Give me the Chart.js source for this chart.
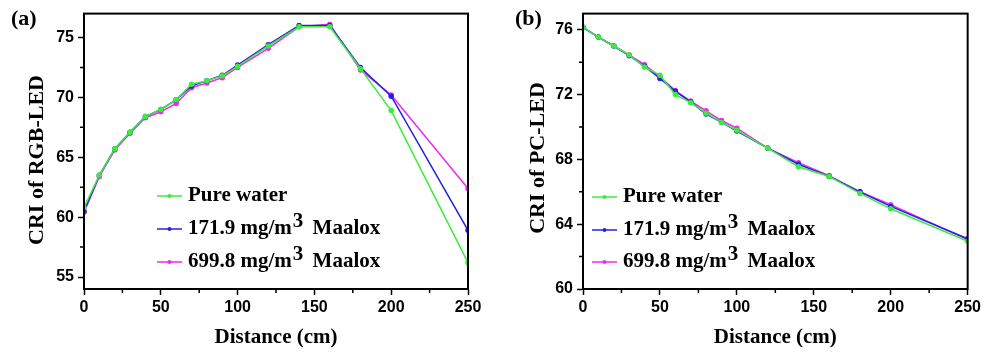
<!DOCTYPE html>
<html>
<head>
<meta charset="utf-8">
<script src="https://cdn.jsdelivr.net/npm/chart.js"></script>
<style>
body { margin: 0; background: #fff; }
canvas { position: absolute; top: 0; }
</style>
</head>
<body>
<canvas id="chartA" width="492" height="354" style="left:0"></canvas>
<canvas id="chartB" width="492" height="354" style="left:492px"></canvas>
<script>
// distances (cm) shared by both panels
var distances = [0, 10, 20, 30, 40, 50, 60, 70, 80, 90, 100, 120, 140, 160, 180, 200, 250];
var seriesNames = ['Pure water', '171.9 mg/m\u00B3 Maalox', '699.8 mg/m\u00B3 Maalox'];

// (a) CRI of RGB-LED
var rgbWater = [60.8, 63.5, 65.7, 67.1, 68.4, 69.0, 69.8, 71.1, 71.4, 71.8, 72.6, 74.3, 75.9, 75.9, 72.4, 68.9, 56.2];
var rgbLow   = [60.5, 63.5, 65.7, 67.1, 68.4, 69.0, 69.8, 70.95, 71.4, 71.85, 72.7, 74.4, 76.0, 76.0, 72.5, 70.1, 58.9];
var rgbHigh  = [60.4, 63.4, 65.6, 67.0, 68.3, 68.8, 69.5, 70.8, 71.2, 71.65, 72.5, 74.1, 75.9, 76.1, 72.3, 70.2, 62.4];

// (b) CRI of PC-LED
var pcWater = [76.15, 75.55, 75.0, 74.45, 73.7, 73.2, 72.0, 71.5, 70.85, 70.3, 69.8, 68.7, 67.55, 66.95, 65.9, 64.95, 62.95];
var pcLow   = [76.15, 75.55, 75.0, 74.4, 73.75, 73.0, 72.2, 71.55, 70.8, 70.3, 69.75, 68.7, 67.7, 66.95, 66.0, 65.1, 63.1];
var pcHigh  = [76.15, 75.55, 75.0, 74.45, 73.85, 73.1, 72.25, 71.6, 71.0, 70.4, 69.93, 68.7, 67.8, 67.0, 66.0, 65.2, 63.05];

// tick labels
var xTicks = [0, 50, 100, 150, 200, 250];
var yTicksA = [55, 60, 65, 70, 75];
var yTicksB = [60, 64, 68, 72, 76];

var colors = ['rgb(60,235,60)', 'rgb(35,35,225)', 'rgb(240,40,240)'];

function makeDatasets(arrs) {
    return arrs.map(function(arr, i) {
        return {
            label: seriesNames[i],
            data: arr.map(function(v, j) { return {x: distances[j], y: v}; }),
            borderColor: colors[i],
            backgroundColor: colors[i],
            borderWidth: 1.5,
            pointRadius: 2,
            pointHoverRadius: 2,
            tension: 0
        };
    });
}

function minorValues(ticks, min, max) {
    var step = ticks[1] - ticks[0];
    var res = [];
    for (var v = ticks[0] - step / 2; v <= max; v += step) {
        if (v >= min) res.push(v);
    }
    return res;
}

// frame, minor ticks, panel letter, y title and legend
var panelPlugin = {
    id: 'panel',
    afterDraw: function(chart, args, opts) {
        var ctx = chart.ctx, a = chart.chartArea;
        var xs = chart.scales.x, ys = chart.scales.y;
        ctx.save();
        ctx.strokeStyle = '#000';
        ctx.lineWidth = 2;
        ctx.strokeRect(a.left, a.top, a.right - a.left, a.bottom - a.top);

        ctx.lineWidth = 1.5;
        ctx.beginPath();
        minorValues(xTicks, xs.min, xs.max).forEach(function(v) {
            var px = xs.getPixelForValue(v);
            ctx.moveTo(px, a.bottom); ctx.lineTo(px, a.bottom + 4);
        });
        minorValues(opts.yTicks, ys.min, ys.max).forEach(function(v) {
            var py = ys.getPixelForValue(v);
            ctx.moveTo(a.left, py); ctx.lineTo(a.left - 4, py);
        });
        ctx.stroke();

        ctx.fillStyle = '#000';
        ctx.textBaseline = 'middle';
        ctx.textAlign = 'left';
        ctx.font = 'bold 22px "Liberation Serif"';
        ctx.fillText(opts.label, opts.labelX, 19);

        ctx.save();
        ctx.translate(opts.titleX, opts.titleY);
        ctx.rotate(-Math.PI / 2);
        ctx.textAlign = 'center';
        ctx.fillText(opts.yTitle, 0, 0);
        ctx.restore();

        ctx.font = 'bold 21px "Liberation Serif"';
        chart.data.datasets.forEach(function(ds, i) {
            var x0 = a.left + opts.legendX, y = opts.legendY[i];
            ctx.strokeStyle = ds.borderColor;
            ctx.lineWidth = 1.5;
            ctx.beginPath();
            ctx.moveTo(x0, y); ctx.lineTo(x0 + 25, y);
            ctx.stroke();
            ctx.fillStyle = ds.borderColor;
            ctx.beginPath();
            ctx.arc(x0 + 12.5, y, 2, 0, Math.PI * 2);
            ctx.fill();
            ctx.fillStyle = '#000';
            var parts = ds.label.split('\u00B3');
            var tx = x0 + 31;
            ctx.fillText(parts[0], tx, y);
            if (parts.length > 1) {
                tx += ctx.measureText(parts[0]).width;
                ctx.fillText('3', tx + 1, y - 7);
                tx += ctx.measureText('3').width + 5;
                ctx.fillText(parts[1], tx, y);
            }
        });
        ctx.restore();
    }
};

function makeChart(id, arrs, yMin, yMax, yTicks, padRight, yWidth, panelOpts) {
    panelOpts.yTicks = yTicks;
    return new Chart(document.getElementById(id), {
        type: 'line',
        data: {datasets: makeDatasets(arrs)},
        plugins: [panelPlugin],
        options: {
            responsive: false,
            animation: false,
            events: [],
            layout: {padding: {left: 0, top: 6, right: padRight, bottom: 0}},
            plugins: {
                legend: {display: false},
                tooltip: {enabled: false},
                panel: panelOpts
            },
            scales: {
                x: {
                    type: 'linear',
                    min: 0,
                    max: 250,
                    afterBuildTicks: function(s) { s.ticks = xTicks.map(function(v) { return {value: v}; }); },
                    afterFit: function(s) { s.height = 65; },
                    grid: {drawOnChartArea: false, tickLength: 6, tickColor: '#000', tickWidth: 1.5},
                    border: {color: '#000', width: 2},
                    ticks: {color: '#000', padding: 3, maxRotation: 0,
                        font: {family: '"Liberation Sans"', weight: 'bold', size: 16}},
                    title: {display: true, text: 'Distance (cm)', color: '#000',
                        font: {family: '"Liberation Serif"', weight: 'bold', size: 21},
                        padding: {top: 0, bottom: 4}}
                },
                y: {
                    min: yMin,
                    max: yMax,
                    afterBuildTicks: function(s) { s.ticks = yTicks.map(function(v) { return {value: v}; }); },
                    afterFit: function(s) { s.width = yWidth; },
                    grid: {drawOnChartArea: false, tickLength: 6, tickColor: '#000', tickWidth: 1.5},
                    border: {color: '#000', width: 2},
                    ticks: {color: '#000', padding: 4,
                        font: {family: '"Liberation Sans"', weight: 'bold', size: 16}}
                }
            }
        }
    });
}

makeChart('chartA', [rgbWater, rgbLow, rgbHigh], 54, 77, yTicksA, 24, 84,
    {label: '(a)', labelX: 11, yTitle: 'CRI of RGB-LED', titleX: 37, titleY: 160,
     legendX: 73, legendY: [196, 229, 262]});
makeChart('chartB', [pcWater, pcLow, pcHigh], 60, 77, yTicksB, 16, 91,
    {label: '(b)', labelX: 23, yTitle: 'CRI of PC-LED', titleX: 46, titleY: 158,
     legendX: 9, legendY: [197, 230, 262]});
</script>
</body>
</html>
